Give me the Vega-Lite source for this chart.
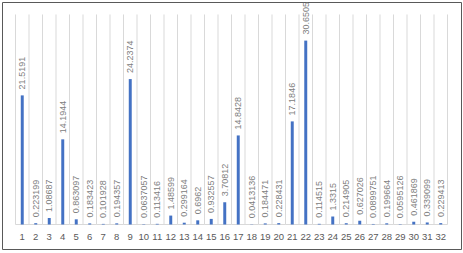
{
  "$schema": "https://vega.github.io/schema/vega-lite/v6.json",
  "width": 463,
  "height": 253,
  "autosize": {"type": "fit", "contains": "padding"},
  "padding": {"left": 2, "top": 2, "right": 2, "bottom": 4},
  "background": "white",
  "config": {
    "view": {"stroke": "#595959", "strokeWidth": 1},
    "font": "Liberation Sans"
  },
  "data": {
    "values": [
      {"cat": 1, "v": 21.5191},
      {"cat": 2, "v": 0.223199},
      {"cat": 3, "v": 1.08687},
      {"cat": 4, "v": 14.1944},
      {"cat": 5, "v": 0.863097},
      {"cat": 6, "v": 0.183423},
      {"cat": 7, "v": 0.101928},
      {"cat": 8, "v": 0.194357},
      {"cat": 9, "v": 24.2374},
      {"cat": 10, "v": 0.0637057},
      {"cat": 11, "v": 0.113416},
      {"cat": 12, "v": 1.48599},
      {"cat": 13, "v": 0.299164},
      {"cat": 14, "v": 0.6962},
      {"cat": 15, "v": 0.932557},
      {"cat": 16, "v": 3.70812},
      {"cat": 17, "v": 14.8428},
      {"cat": 18, "v": 0.0413136},
      {"cat": 19, "v": 0.184471},
      {"cat": 20, "v": 0.228431},
      {"cat": 21, "v": 17.1846},
      {"cat": 22, "v": 30.6505},
      {"cat": 23, "v": 0.114515},
      {"cat": 24, "v": 1.3315},
      {"cat": 25, "v": 0.214905},
      {"cat": 26, "v": 0.627026},
      {"cat": 27, "v": 0.0899751},
      {"cat": 28, "v": 0.199664},
      {"cat": 29, "v": 0.0595126},
      {"cat": 30, "v": 0.461869},
      {"cat": 31, "v": 0.339099},
      {"cat": 32, "v": 0.229413}
    ]
  },
  "encoding": {
    "x": {
      "field": "cat",
      "type": "ordinal",
      "scale": {"paddingInner": 0, "paddingOuter": 1},
      "axis": {
        "orient": "bottom",
        "offset": -24.5,
        "domain": false,
        "ticks": false,
        "grid": false,
        "labelAngle": 0,
        "labelPadding": 7,
        "labelFontSize": 9.5,
        "labelColor": "#595959",
        "title": null
      }
    }
  },
  "layer": [
    {
      "mark": {"type": "rule", "color": "#d9d9d9", "strokeWidth": 1},
      "encoding": {
        "x": {"field": "cat", "type": "ordinal", "bandPosition": 0},
        "y": {"datum": 0, "type": "quantitative", "scale": {"domain": [-4.0833, 37.0833], "nice": false, "zero": false}, "axis": null},
        "y2": {"datum": 35}
      }
    },
    {
      "transform": [{"filter": "datum.cat == 32"}],
      "mark": {"type": "rule", "color": "#d9d9d9", "strokeWidth": 1},
      "encoding": {
        "x": {"field": "cat", "type": "ordinal", "bandPosition": 1},
        "y": {"datum": 0, "type": "quantitative"},
        "y2": {"datum": 35}
      }
    },
    {
      "mark": {"type": "tick", "orient": "horizontal", "size": 13.5, "thickness": 1, "color": "#d9d9d9", "opacity": 1},
      "encoding": {
        "y": {"datum": 0, "type": "quantitative"}
      }
    },
    {
      "mark": {"type": "bar", "color": "#4472C4", "width": {"band": 0.22}},
      "encoding": {
        "y": {"field": "v", "type": "quantitative"},
        "y2": {"datum": 0}
      }
    },
    {
      "mark": {"type": "text", "angle": -90, "align": "left", "baseline": "middle", "dx": 6, "fontSize": 9, "color": "#808080", "clip": true},
      "encoding": {
        "y": {"field": "v", "type": "quantitative"},
        "text": {"field": "v", "type": "nominal"}
      }
    }
  ]
}
